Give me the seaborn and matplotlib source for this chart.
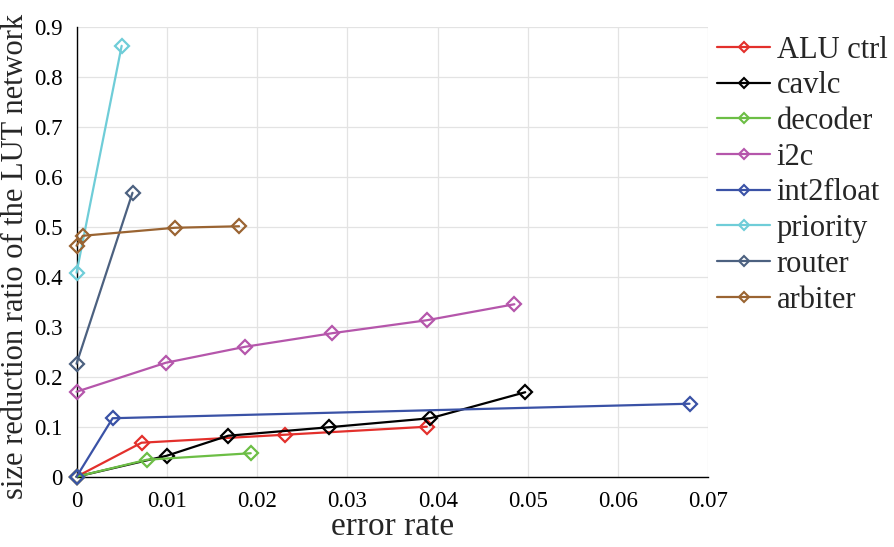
import matplotlib

matplotlib.use("Agg")

import matplotlib.pyplot as plt
import seaborn as sns

# values
alu_x = [0.0, 0.0072, 0.0231, 0.0388]
alu_y = [0.0, 0.068, 0.084, 0.100]
cavlc_x = [0.0, 0.0100, 0.0168, 0.0280, 0.0392, 0.0497]
cavlc_y = [0.0, 0.042, 0.082, 0.099, 0.117, 0.169]
decoder_x = [0.0, 0.0078, 0.0193]
decoder_y = [0.0, 0.034, 0.047]
i2c_x = [0.0, 0.0099, 0.0187, 0.0283, 0.0388, 0.0485]
i2c_y = [0.170, 0.228, 0.260, 0.287, 0.313, 0.345]
int2float_x = [0.0, 0.0040, 0.0679]
int2float_y = [0.0, 0.117, 0.146]
priority_x = [0.0, 0.0050]
priority_y = [0.408, 0.862]
router_x = [0.0, 0.0062]
router_y = [0.226, 0.568]
arbiter_x = [0.0, 0.0007, 0.0109, 0.0180]
arbiter_y = [0.462, 0.482, 0.498, 0.501]

names = ["ALU ctrl", "cavlc", "decoder", "i2c", "int2float", "priority", "router", "arbiter"]
xs = [alu_x, cavlc_x, decoder_x, i2c_x, int2float_x, priority_x, router_x, arbiter_x]
ys = [alu_y, cavlc_y, decoder_y, i2c_y, int2float_y, priority_y, router_y, arbiter_y]
colors = ["#E3302C", "#000000", "#6CBE45", "#B556AB", "#3A52A6", "#6FCDD8", "#4C6180", "#9A6432"]

x_ticks = [0, 0.01, 0.02, 0.03, 0.04, 0.05, 0.06, 0.07]
x_tick_labels = ["0", "0.01", "0.02", "0.03", "0.04", "0.05", "0.06", "0.07"]
y_ticks = [0, 0.1, 0.2, 0.3, 0.4, 0.5, 0.6, 0.7, 0.8, 0.9]
y_tick_labels = ["0", "0.1", "0.2", "0.3", "0.4", "0.5", "0.6", "0.7", "0.8", "0.9"]

sns.set_style("white")
plt.rcParams["font.family"] = ["Liberation Serif", "DejaVu Serif"]

fig = plt.figure(figsize=(8.94, 5.47), dpi=100)
ax = fig.add_axes([0.0856, 0.1285, 0.7069, 0.8225])

for name, x, y, c in zip(names, xs, ys, colors):
    sns.lineplot(
        x=x, y=y, ax=ax, color=c, label=name, sort=False, estimator=None,
        linewidth=1.6, marker="D", markersize=7.5, markerfacecolor="none",
        markeredgecolor=c, markeredgewidth=1.6, clip_on=False, zorder=3,
    )

ax.set_xlim(0, 0.07)
ax.set_ylim(0, 0.9)
ax.set_xticks(x_ticks)
ax.set_xticklabels(x_tick_labels)
ax.set_yticks(y_ticks)
ax.set_yticklabels(y_tick_labels)
ax.tick_params(direction="in", length=4, width=1, labelsize=16.5, colors="#000000", pad=10)
ax.grid(True, color="#E3E3E3", linewidth=0.9)
ax.set_axisbelow(True)
for side in ["top", "right"]:
    ax.spines[side].set_visible(False)
for side in ["left", "bottom"]:
    ax.spines[side].set_color("#000000")
    ax.spines[side].set_linewidth(1.0)

ax.set_xlabel("error rate", fontsize=24, labelpad=0)
ax.set_ylabel("size reduction ratio of the LUT network", fontsize=22)
ax.yaxis.set_label_coords(-0.074, 0.49)

leg = ax.legend(
    loc="upper left", bbox_to_anchor=(0.802, 0.935), bbox_transform=fig.transFigure,
    frameon=False, fontsize=22, handlelength=1.75, handletextpad=0.2,
    labelspacing=0.22, borderaxespad=0, borderpad=0,
)
for h in leg.legend_handles:
    h.set_markersize(5.5)
    h.set_markeredgewidth(1.5)

fig.savefig("out.png", dpi=100)
